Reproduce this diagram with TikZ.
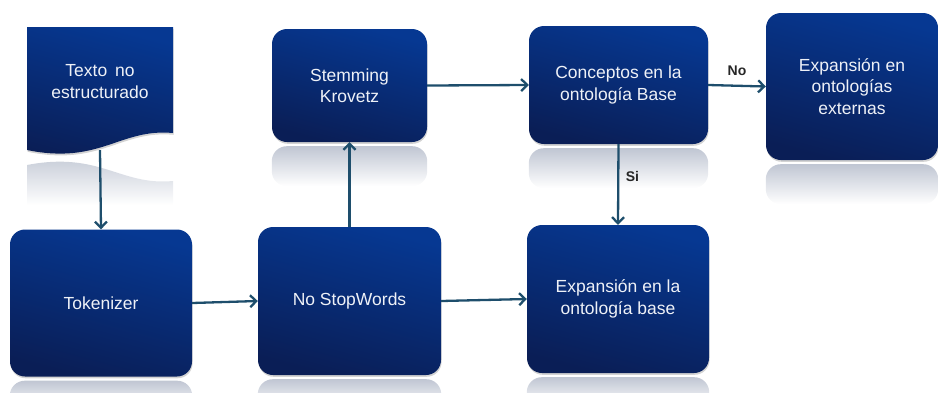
\documentclass[tikz,border=0pt]{standalone}
\usepackage{fontspec}
\setmainfont{Liberation Sans}
\usetikzlibrary{arrows.meta,shadows}

\definecolor{boxtop}{RGB}{6,56,146}
\definecolor{boxbot}{RGB}{10,30,86}
\definecolor{flow}{RGB}{30,78,108}
\definecolor{mirrortop}{RGB}{192,198,211}
\definecolor{boxtext}{RGB}{238,241,247}

\tikzset{
  stepbox/.style={rounded corners=15pt, top color=boxtop, bottom color=boxbot,
    shading angle=-15, draw=none, text=boxtext, align=center, inner sep=0pt,
    font=\fontsize{17.5}{21.5}\selectfont,
    drop shadow={opacity=0.35, shadow xshift=0.6pt, shadow yshift=-1.8pt}},
  mirror/.style={rounded corners=15pt, top color=mirrortop, bottom color=white, draw=none},
  flowline/.style={draw=flow, line width=2.3pt, -{Straight Barb[length=6pt,width=12pt,line width=2.3pt]}},
  flowlabel/.style={font=\bfseries\fontsize{14}{16}\selectfont, text=black!85}
}

% soft mirror image under a box
\newcommand\mirrorunder[2]{%
  \shade[mirror] ([yshift=-4pt]#1.south west) rectangle ([yshift=-4pt-#2]#1.south east);}

\begin{document}
\begin{tikzpicture}[x=1pt,y=-1pt]
\useasboundingbox (0,0) rectangle (938,392);

% document shape: text input
\shade[top color=mirrortop, bottom color=white, draw=none]
  (27,165) .. controls (100,151) and (120,186) .. (173,181) -- (173,205) -- (27,205) -- cycle;
\shade[top color=boxtop, bottom color=boxbot, shading angle=-15,
       drop shadow={opacity=0.35, shadow xshift=0.6pt, shadow yshift=-1.8pt}]
  (27,27) -- (173,27) -- (173,133) .. controls (120,128) and (100,165) .. (27,150) -- cycle;
\node[inner sep=0pt, minimum width=146pt, minimum height=123pt, align=center,
      text=boxtext, font=\fontsize{17.5}{21.5}\selectfont] (doc) at (100,88.5)
  {};
\node[inner sep=0pt, align=center, text=boxtext, font=\fontsize{17.5}{21.5}\selectfont]
  (doctext) at (100,81.5) {Texto\, no\\estructurado};

% process boxes
\node[stepbox, minimum width=182pt, minimum height=147pt] (tok)  at (101,303)   {Tokenizer};
\node[stepbox, minimum width=183pt, minimum height=148pt] (nsw)  at (349.5,301) {No StopWords};
\node[stepbox, minimum width=155pt, minimum height=113pt] (stem) at (349.5,85.5) {Stemming\\Krovetz};
\node[stepbox, minimum width=179pt, minimum height=118pt] (conc) at (618.5,85)  {Conceptos en la\\ontología Base};
\node[stepbox, minimum width=172pt, minimum height=147pt] (ext)  at (852,86.5)  {Expansión en\\ontologías\\externas};
\node[stepbox, minimum width=182pt, minimum height=148pt] (eb)   at (618,299)   {Expansión en la\\ontología base};

% mirror images
\mirrorunder{tok}{30pt}
\mirrorunder{nsw}{30pt}
\mirrorunder{eb}{30pt}
\mirrorunder{stem}{40pt}
\mirrorunder{conc}{40pt}
\mirrorunder{ext}{40pt}

% connectors
\draw[flowline] (doc.south) -- (tok.north);
\draw[flowline] (tok.east) -- (nsw.west);
\draw[flowline] (nsw.north) -- (stem.south);
\draw[flowline] (nsw.east) -- (eb.west);
\draw[flowline] (stem.east) -- (conc.west);
\draw[flowline] (conc.east) -- node[flowlabel, above=6pt] (no) {No} (ext.west);
\draw[flowline] (conc.south) -- node[flowlabel, right=3pt, pos=0.4] (si) {Si} (eb.north);
\end{tikzpicture}
\end{document}
